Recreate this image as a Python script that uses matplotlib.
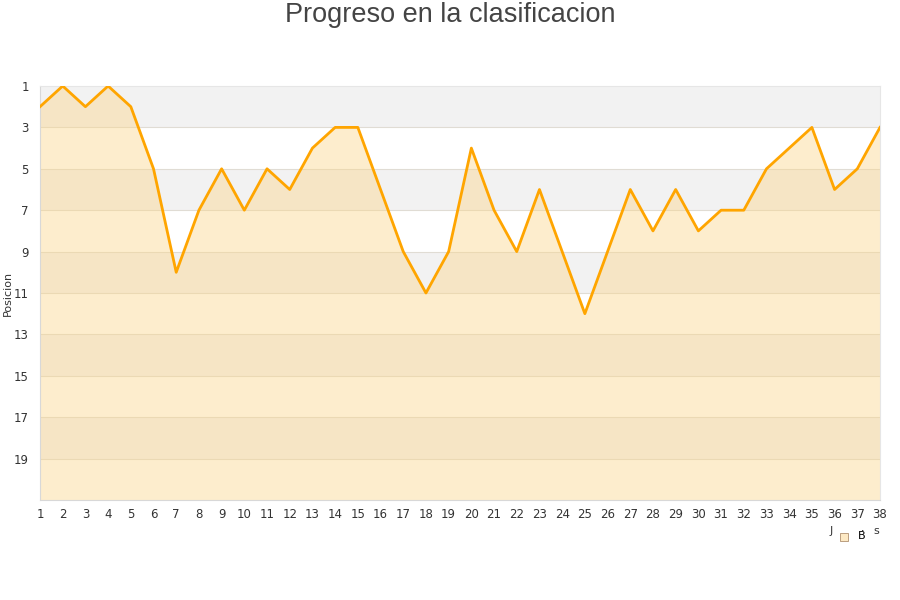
import matplotlib
matplotlib.use("Agg")
import matplotlib.pyplot as plt
from matplotlib.patches import Rectangle

# jornadas y posicion en la clasificacion
jornadas = list(range(1, 39))
posicion = [2, 1, 2, 1, 2, 5, 10, 7, 5, 7, 5, 6, 4, 3, 3, 6, 9, 11, 9, 4,
            7, 9, 6, 9, 12, 9, 6, 8, 6, 8, 7, 7, 5, 4, 3, 6, 5, 3]
y_ticks = [1, 3, 5, 7, 9, 11, 13, 15, 17, 19]
y_min, y_max = 1, 21

fig = plt.figure(figsize=(9, 6), dpi=100)
ax = fig.add_axes([40 / 900, 100 / 600, 840 / 900, 414 / 600])

# bandas alternas del fondo
for i, lo in enumerate(range(y_min, y_max, 2)):
    col = "#f2f2f2" if i % 2 == 0 else "white"
    ax.axhspan(lo, lo + 2, color=col, zorder=0, lw=0)
for t in y_ticks[1:]:
    ax.axhline(t, color="#e0dcd4", lw=0.8, zorder=1)

ax.fill_between(jornadas, posicion, y_max, color="#fcd588", alpha=0.42,
                lw=0, zorder=2)
ax.plot(jornadas, posicion, color="#ffa500", lw=2.0, zorder=3)

ax.set_xlim(1, 38)
ax.set_ylim(y_max, y_min)
ax.set_xticks(jornadas)
ax.set_yticks(y_ticks)
ax.tick_params(length=0, labelsize=8.5, colors="#333333")
ax.tick_params(axis="x", pad=6)
ax.tick_params(axis="y", pad=8)
for s in ["left", "bottom"]:
    ax.spines[s].set_color("#d8d8d8")
for s in ["top", "right"]:
    ax.spines[s].set_color("#e6e6e6")
ax.set_ylabel("Posicion", fontsize=8, color="#333333")
ax.yaxis.set_label_coords(-27 / 840, 0.5)

fig.text(0.5, 1 - 2 / 600, "Progreso en la clasificacion", ha="center", va="top",
         fontsize=19.5, color="#444444", family="Liberation Sans")

# leyenda
fig.patches.append(Rectangle((840 / 900, 59 / 600), 8 / 900, 8 / 600,
                             transform=fig.transFigure, facecolor="#fde9c4",
                             edgecolor="#b09070", lw=0.6))
fig.text(831 / 900, 1 - 531 / 600, "J", fontsize=8, color="#333333", ha="center", va="center")
fig.text(862 / 900, 1 - 536 / 600, "B\u0301", fontsize=8, color="black", ha="center", va="center")
fig.text(876 / 900, 1 - 531 / 600, "s", fontsize=8, color="#333333", ha="center", va="center")

fig.savefig("out.png", dpi=100)
